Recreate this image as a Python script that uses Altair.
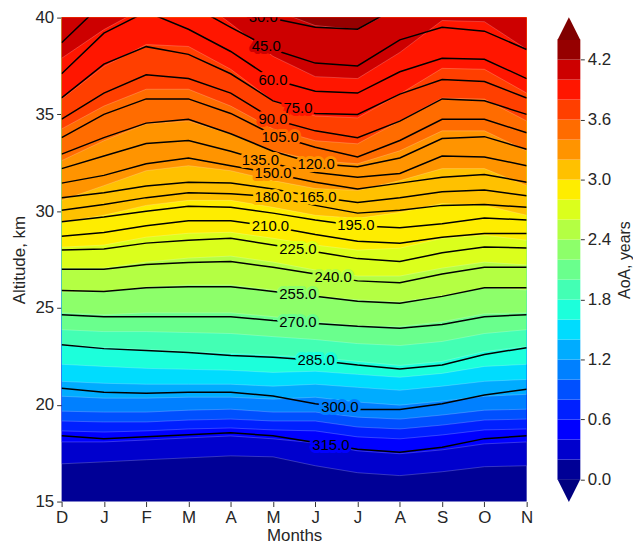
import altair as alt
import numpy as np
import pandas as pd

FONT = "Liberation Sans"
months = ["D", "J", "F", "M", "A", "M", "J", "J", "A", "S", "O", "N"]

# ---- AoA filled-contour boundaries: altitude (km) of each level, per month ----
aoa_levels = [0.2, 0.4, 0.6, 0.8, 1.0, 1.2, 1.4, 1.6, 1.8, 2.0, 2.2,
              2.4, 2.6, 2.8, 3.0, 3.2, 3.4, 3.6, 3.8, 4.0, 4.2]
aoa_02 = [16.95, 17.05, 17.16, 17.26, 17.36, 17.31, 16.85, 16.49, 16.34, 16.54, 16.80, 16.85]
aoa_04 = [18.08, 18.08, 18.18, 18.29, 18.39, 18.24, 18.03, 17.62, 17.47, 17.67, 17.98, 18.08]
aoa_06 = [18.65, 18.59, 18.65, 18.75, 18.80, 18.70, 18.65, 18.34, 18.24, 18.44, 18.70, 18.75]
aoa_08 = [19.16, 19.11, 19.11, 19.21, 19.26, 19.16, 19.16, 18.85, 18.75, 18.95, 19.21, 19.26]
aoa_10 = [19.67, 19.62, 19.62, 19.72, 19.77, 19.62, 19.62, 19.36, 19.26, 19.47, 19.72, 19.77]
aoa_12 = [20.44, 20.34, 20.34, 20.39, 20.39, 20.29, 20.39, 20.14, 19.98, 20.19, 20.44, 20.54]
aoa_14 = [21.21, 21.11, 21.06, 21.06, 21.06, 20.96, 21.06, 20.90, 20.75, 20.96, 21.21, 21.31]
aoa_16 = [22.09, 21.98, 21.88, 21.83, 21.78, 21.67, 21.73, 21.57, 21.42, 21.62, 21.98, 22.09]
aoa_18 = [23.11, 22.96, 22.86, 22.75, 22.65, 22.55, 22.45, 22.24, 22.03, 22.24, 22.75, 23.01]
aoa_20 = [23.88, 23.78, 23.78, 23.73, 23.68, 23.52, 23.37, 23.16, 23.06, 23.27, 23.68, 23.88]
aoa_22 = [24.75, 24.65, 24.75, 24.75, 24.75, 24.55, 24.29, 24.09, 24.04, 24.29, 24.70, 24.75]
aoa_24 = [25.83, 25.83, 26.09, 26.19, 26.19, 25.93, 25.63, 25.42, 25.32, 25.63, 26.04, 25.93]
aoa_26 = [27.06, 27.06, 27.37, 27.58, 27.68, 27.37, 26.96, 26.65, 26.65, 27.06, 27.37, 27.22]
aoa_28 = [28.14, 28.25, 28.66, 28.86, 28.91, 28.60, 28.25, 27.99, 28.09, 28.60, 28.76, 28.50]
aoa_30 = [29.43, 29.79, 30.30, 30.56, 30.56, 30.20, 29.79, 29.63, 29.94, 30.40, 30.30, 29.79]
aoa_32 = [30.56, 31.32, 32.09, 32.35, 32.09, 31.58, 31.17, 31.07, 31.58, 32.20, 32.20, 31.32]
aoa_34 = [32.61, 33.64, 34.51, 34.66, 33.99, 33.12, 32.61, 32.45, 33.12, 34.15, 34.15, 33.12]
aoa_36 = [34.25, 35.43, 36.30, 36.30, 35.43, 34.25, 33.64, 33.48, 34.66, 35.84, 35.79, 34.66]
aoa_38 = [35.79, 37.48, 38.61, 38.51, 37.33, 35.69, 34.92, 34.82, 36.05, 37.38, 37.33, 36.10]
aoa_40 = [37.90, 39.38, 40.56, 41.33, 39.69, 38.00, 36.95, 36.85, 38.20, 39.85, 39.79, 38.36]
aoa_42 = [42.36, 43.39, 43.90, 42.87, 41.59, 40.41, 39.59, 39.38, 40.56, 41.59, 41.59, 42.10]
aoa_bounds = [aoa_02, aoa_04, aoa_06, aoa_08, aoa_10, aoa_12, aoa_14, aoa_16, aoa_18,
              aoa_20, aoa_22, aoa_24, aoa_26, aoa_28, aoa_30, aoa_32, aoa_34, aoa_36,
              aoa_38, aoa_40, aoa_42]

# ---- black contour lines: altitude (km) per month ----
line_levels = [30, 45, 60, 75, 90, 105, 120, 135, 150, 165, 180, 195, 210, 225,
               240, 255, 270, 285, 300, 315]
line_030 = [41.1, 42.9, 43.9, 42.4, 40.4, 39.95, 39.5, 39.4, 40.6, 41.3, 41.2, 41.0]
line_045 = [38.7, 40.8, 41.3, 40.7, 39.5, 38.35, 37.65, 37.5, 38.85, 39.5, 39.3, 38.35]
line_060 = [37.1, 39.2, 40.3, 39.4, 38.25, 36.8, 36.2, 36.1, 37.2, 37.9, 37.85, 36.85]
line_075 = [35.85, 37.6, 38.5, 38.1, 37.1, 35.7, 35.05, 35.0, 36.05, 36.8, 36.7, 35.85]
line_090 = [34.75, 36.1, 37.05, 36.85, 36.1, 34.75, 34.15, 33.8, 34.65, 35.8, 35.7, 35.0]
line_105 = [33.8, 35.0, 35.8, 35.8, 35.05, 33.95, 33.3, 32.8, 33.65, 34.75, 34.75, 34.05]
line_120 = [32.95, 33.8, 34.55, 34.75, 34.0, 33.1, 32.45, 32.3, 32.75, 33.75, 33.85, 33.2]
line_135 = [32.2, 32.85, 33.5, 33.65, 33.1, 32.45, 32.0, 31.75, 31.95, 32.85, 32.8, 32.35]
line_150 = [31.45, 31.85, 32.45, 32.75, 32.35, 31.95, 31.5, 31.15, 31.45, 31.75, 31.9, 31.5]
line_165 = [30.7, 30.95, 31.3, 31.5, 31.45, 31.15, 30.75, 30.45, 30.7, 31.0, 31.1, 30.8]
line_180 = [30.05, 30.35, 30.7, 30.95, 30.9, 30.75, 30.3, 29.9, 30.05, 30.3, 30.35, 30.2]
line_195 = [29.45, 29.7, 30.0, 30.25, 30.2, 29.9, 29.55, 29.25, 29.15, 29.35, 29.65, 29.55]
line_210 = [28.7, 28.9, 29.25, 29.5, 29.5, 29.2, 28.8, 28.45, 28.35, 28.65, 28.85, 28.85]
line_225 = [28.0, 28.05, 28.35, 28.5, 28.6, 28.25, 27.9, 27.55, 27.4, 27.85, 28.15, 28.1]
line_240 = [27.0, 27.0, 27.25, 27.35, 27.4, 27.1, 26.75, 26.4, 26.3, 26.75, 27.1, 27.1]
line_255 = [25.9, 25.85, 26.05, 26.1, 26.1, 25.85, 25.6, 25.35, 25.25, 25.6, 26.05, 26.05]
line_270 = [24.65, 24.55, 24.55, 24.55, 24.55, 24.35, 24.2, 24.05, 23.95, 24.15, 24.55, 24.65]
line_285 = [23.1, 22.9, 22.8, 22.7, 22.55, 22.45, 22.3, 22.05, 21.85, 22.05, 22.6, 22.95]
line_300 = [20.85, 20.65, 20.6, 20.65, 20.65, 20.45, 20.05, 19.75, 19.75, 20.05, 20.5, 20.8]
line_315 = [18.4, 18.25, 18.35, 18.45, 18.55, 18.4, 18.05, 17.7, 17.55, 17.8, 18.25, 18.4]
line_alts = [line_030, line_045, line_060, line_075, line_090, line_105, line_120, line_135,
             line_150, line_165, line_180, line_195, line_210, line_225, line_240, line_255,
             line_270, line_285, line_300, line_315]

# where along the month axis each inline label sits
label_month = [4.77, 4.84, 5.0, 5.59, 5.0, 5.17, 6.02, 4.70, 5.0, 6.06, 5.0, 6.96,
               4.94, 5.59, 6.42, 5.59, 5.59, 6.02, 6.58, 6.37]

cbar_ticks = [0.0, 0.6, 1.2, 1.8, 2.4, 3.0, 3.6, 4.2]
cbar_edges = [0.0] + aoa_levels + [4.4]


# ---- jet colormap (matplotlib-style, 256 entries) ----
def jet(x):
    i = min(int(x * 256), 255)
    t = i / 255.0
    r = np.interp(t, [0, 0.35, 0.66, 0.89, 1], [0, 0, 1, 1, 0.5])
    g = np.interp(t, [0, 0.125, 0.375, 0.64, 0.91, 1], [0, 0, 1, 1, 0, 0])
    b = np.interp(t, [0, 0.11, 0.34, 0.65, 1], [0.5, 1, 1, 0, 0])
    return "#%02x%02x%02x" % (int(round(r * 255)), int(round(g * 255)), int(round(b * 255)))


n_bands = len(cbar_edges) - 1
band_colors = [jet((k + 0.5) / n_bands) for k in range(n_bands)]
under_color = jet(0.0)
over_color = jet(1.0)

months_idx = list(range(12))
label_expr = "[" + ",".join("'%s'" % m for m in months) + "][datum.value]"

x_enc = alt.X("m:Q", scale=alt.Scale(domain=[0, 11], nice=False, zero=False),
              axis=alt.Axis(values=months_idx, labelExpr=label_expr, title="Months",
                            grid=False, domain=False, tickSize=5, labelPadding=3,
                            titlePadding=2, labelFlush=False))
y_enc = alt.Y("alt:Q", scale=alt.Scale(domain=[15, 40], nice=False, zero=False),
              axis=alt.Axis(values=[15, 20, 25, 30, 35, 40], title="Altitude, km",
                            grid=False, domain=False, tickSize=5, labelPadding=3,
                            titlePadding=6))

layers = []
for k, alts in enumerate(aoa_bounds):
    df = pd.DataFrame({"m": months_idx, "alt": alts})
    layers.append(
        alt.Chart(df).mark_area(color=band_colors[k + 1], clip=True, interpolate="linear")
        .encode(x=x_enc, y=y_enc, y2=alt.datum(45))
    )

# faint boundaries between filled bands
bdf = pd.DataFrame([
    {"lev": lev, "m": i, "alt": a}
    for lev, alts in zip(aoa_levels, aoa_bounds) for i, a in enumerate(alts)
])
layers.append(
    alt.Chart(bdf).mark_line(color="white", strokeOpacity=0.3, strokeWidth=0.7, clip=True)
    .encode(x=x_enc, y=y_enc, detail="lev:N")
)

ldf = pd.DataFrame([
    {"lev": lev, "m": i, "alt": a}
    for lev, alts in zip(line_levels, line_alts) for i, a in enumerate(alts)
])
layers.append(
    alt.Chart(ldf).mark_line(color="black", strokeWidth=1.5, clip=True)
    .encode(x=x_enc, y=y_enc, detail="lev:N")
)


# labels: y taken on the line itself, halo coloured with the local band
def band_at(xm, a):
    k = 0
    for alts in aoa_bounds:
        if np.interp(xm, months_idx, alts) < a:
            k += 1
    return band_colors[k]


lab_rows = []
for lev, alts, xm in zip(line_levels, line_alts, label_month):
    a = float(np.interp(xm, months_idx, alts))
    lab_rows.append({"m": xm, "alt": a, "txt": "%.1f" % lev, "halo": band_at(xm, a)})
labdf = pd.DataFrame(lab_rows)

layers.append(
    alt.Chart(labdf).mark_text(font=FONT, fontSize=15, strokeWidth=6, strokeJoin="round",
                               clip=True)
    .encode(x=x_enc, y=y_enc, text="txt:N",
            fill=alt.Fill("halo:N", scale=None), stroke=alt.Stroke("halo:N", scale=None))
)
layers.append(
    alt.Chart(labdf).mark_text(font=FONT, fontSize=15, color="black", clip=True)
    .encode(x=x_enc, y=y_enc, text="txt:N")
)

main = alt.layer(*layers).properties(
    width=468, height=487,
    view=alt.ViewBackground(fill=band_colors[0], strokeWidth=0),
)

# ---- colour bar ----
ext = 0.05 * (cbar_edges[-1] - cbar_edges[0])
cb_scale = alt.Scale(domain=[cbar_edges[0] - ext, cbar_edges[-1] + ext], nice=False, zero=False)
cbdf = pd.DataFrame({"lo": cbar_edges[:-1], "hi": cbar_edges[1:], "col": band_colors})
cb_axis = alt.Axis(orient="right", values=cbar_ticks, format=".1f", title="AoA, years",
                   titleAngle=270, titleBaseline="top", titleFontSize=16, titlePadding=6,
                   grid=False, domain=False, tickSize=4, labelPadding=3)
bar = alt.Chart(cbdf).mark_rect().encode(
    x=alt.value(0), x2=alt.value(23),
    y=alt.Y("lo:Q", scale=cb_scale, axis=cb_axis), y2="hi:Q",
    color=alt.Color("col:N", scale=None),
)
tri_top = alt.Chart(pd.DataFrame({"v": [cbar_edges[-1] + ext / 2]})).mark_point(
    shape="M-1,1L0,-1L1,1Z", size=529, filled=True, opacity=1, color=over_color, strokeWidth=0
).encode(x=alt.value(11.5), y=alt.Y("v:Q", scale=cb_scale, axis=cb_axis))
tri_bot = alt.Chart(pd.DataFrame({"v": [cbar_edges[0] - ext / 2]})).mark_point(
    shape="M-1,-1L0,1L1,-1Z", size=529, filled=True, opacity=1, color=under_color, strokeWidth=0
).encode(x=alt.value(11.5), y=alt.Y("v:Q", scale=cb_scale, axis=cb_axis))

cbar = alt.layer(bar, tri_top, tri_bot).properties(width=23, height=487)

chart = alt.hconcat(main, cbar, spacing=24).properties(
    padding={"left": 11, "top": 7, "right": 0, "bottom": 0}
).configure_view(strokeWidth=0).configure_axis(
    labelFont=FONT, titleFont=FONT, labelFontSize=17, titleFontSize=17,
    labelColor="#262626", titleColor="#262626", tickColor="#333333",
    titleFontWeight="normal",
)

chart.save("out.html", embed_options={"renderer": "svg", "actions": False})
